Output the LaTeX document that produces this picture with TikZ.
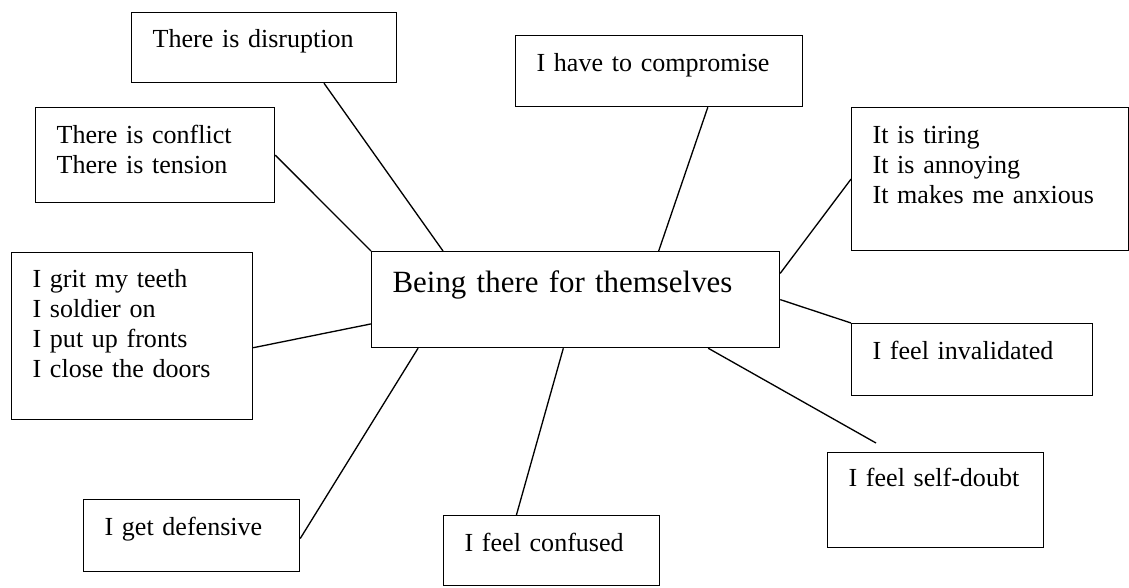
\documentclass[tikz,border=0pt]{standalone}
\usepackage{fontspec}
\setmainfont{Liberation Serif}
\usetikzlibrary{calc}
\newdimen\unitpx
\unitpx=0.453pt
\tikzset{
  mapbox/.style n args={3}{draw, line width=0.55pt, anchor=north west,
    inner xsep=21\unitpx, inner ysep=0pt, align=left,
    font=\fontsize{11.8}{13.6}\selectfont,
    text width=#1\unitpx, text height=#2\unitpx, text depth=#3\unitpx},
  spoke/.style={line width=0.6pt}
}

\begin{document}
\begin{tikzpicture}[x=\unitpx, y=-\unitpx]
\useasboundingbox (0,0) rectangle (1129,587);
\node[mapbox={366}{41}{55}, font=\fontsize{14}{16}\selectfont] (core) at (371,251) {Being there for themselves};
\node[mapbox={223}{35}{35}] (disr) at (131,12) {There is disruption};
\node[mapbox={197}{36}{59}] (confl) at (35,107) {There is conflict\\There is tension};
\node[mapbox={245}{36}{35}] (comp) at (515,35) {I have to compromise};
\node[mapbox={235}{36}{107}] (tiring) at (851,107) {It is tiring\\It is annoying\\It makes me anxious};
\node[mapbox={199}{35}{132}] (grit) at (11,252) {I grit my teeth\\I soldier on\\I put up fronts\\I close the doors};
\node[mapbox={199}{36}{36}] (inval) at (851,323) {I feel invalidated};
\node[mapbox={174}{34}{61}] (doubt) at (827,452) {I feel self-doubt};
\node[mapbox={174}{36}{36}] (defen) at (83,499) {I get defensive};
\node[mapbox={174}{36}{34}] (confu) at (443,515) {I feel confused};
\coordinate (doubt-end) at (876,443);

\draw[spoke] ($(disr.south west)!.725!(disr.south east)$) -- ($(core.north west)!.176!(core.north east)$);
\draw[spoke] (confl.east) -- (core.north west);
\draw[spoke] ($(comp.south west)!.669!(comp.south east)$) -- ($(core.north west)!.703!(core.north east)$);
\draw[spoke] (tiring.west) -- ($(core.north east)!.23!(core.south east)$);
\draw[spoke] ($(grit.north east)!.569!(grit.south east)$) -- ($(core.north west)!.75!(core.south west)$);
\draw[spoke] (core.east) -- (inval.north west);
\draw[spoke] ($(core.south west)!.824!(core.south east)$) -- (doubt-end);
\draw[spoke] ($(defen.north east)!.54!(defen.south east)$) -- ($(core.south west)!.115!(core.south east)$);
\draw[spoke] ($(confu.north west)!.338!(confu.north east)$) -- ($(core.south west)!.47!(core.south east)$);
\end{tikzpicture}
\end{document}
